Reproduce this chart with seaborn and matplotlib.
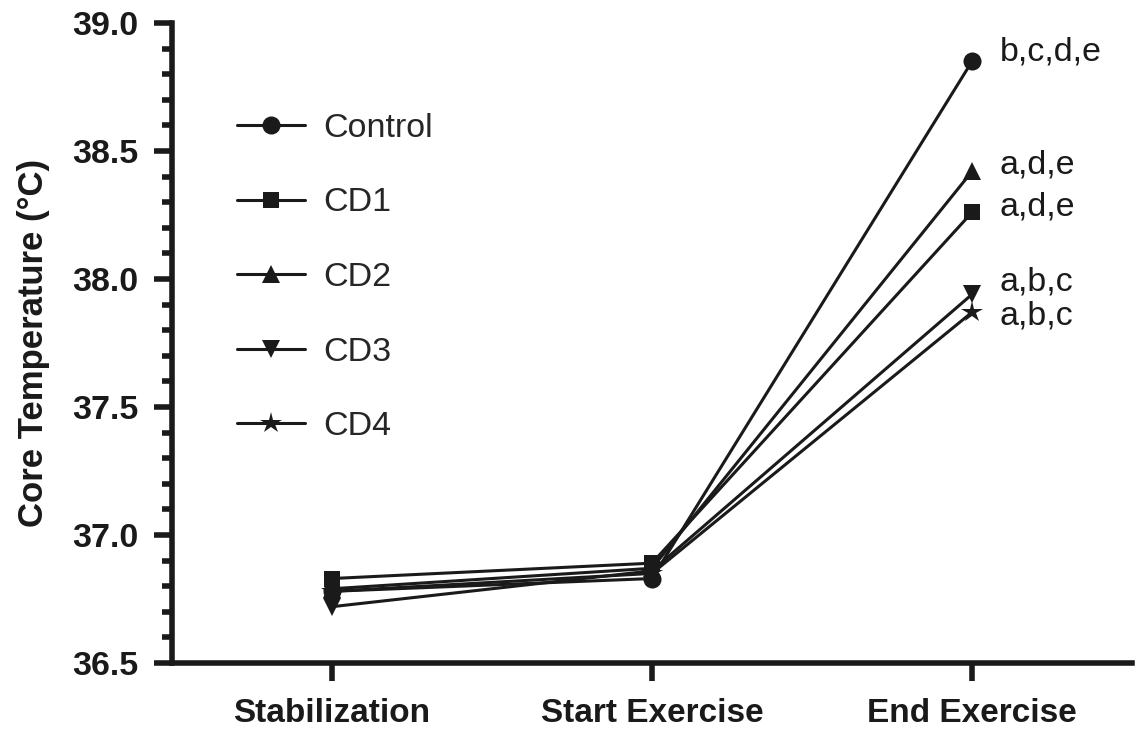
import matplotlib
matplotlib.use("Agg")
import matplotlib.pyplot as plt
from matplotlib.ticker import MultipleLocator
from matplotlib.lines import Line2D
import seaborn as sns
import pandas as pd

# Measurement phases and mean core temperature (°C) per condition
phases = ["Stabilization", "Start Exercise", "End Exercise"]
groups = ["Control", "CD1", "CD2", "CD3", "CD4"]
control = [36.78, 36.83, 38.85]
cd1 = [36.83, 36.89, 38.26]
cd2 = [36.79, 36.87, 38.42]
cd3 = [36.72, 36.86, 37.94]
cd4 = [36.78, 36.85, 37.87]
# Significance letters at the end of exercise
sig_labels = ["b,c,d,e", "a,d,e", "a,d,e", "a,b,c", "a,b,c"]

series = [control, cd1, cd2, cd3, cd4]
rows = []
for g, vals in zip(groups, series):
    for i, v in enumerate(vals):
        rows.append({"phase_idx": i, "temp": v, "group": g})
df = pd.DataFrame(rows)

sns.set_theme(style="ticks")
plt.rcParams["font.family"] = ["Liberation Sans", "DejaVu Sans"]

INK = "#1a1a1a"
fig = plt.figure(figsize=(11.42, 7.35), dpi=100)
ax = fig.add_axes([172 / 1142, 1 - 663 / 735, 960 / 1142, 640 / 735])

markers = {"Control": "o", "CD1": "s", "CD2": "^", "CD3": "v", "CD4": "*"}
sizes = {"Control": 13, "CD1": 12, "CD2": 13, "CD3": 13, "CD4": 16}
palette = {g: INK for g in groups}

sns.lineplot(data=df, x="phase_idx", y="temp", hue="group", style="group",
             markers=markers, dashes=False, palette=palette,
             hue_order=groups, style_order=groups, linewidth=2.2,
             markeredgewidth=0, ax=ax, legend=False)

for line, g in zip(ax.get_lines(), groups):
    line.set_markersize(sizes[g])

# Legend entries
handles = [Line2D([0], [0], color=INK, lw=2.2, marker=markers[g],
                  markersize=sizes[g], markeredgewidth=0) for g in groups]
ax.legend(handles, groups, loc="upper left", bbox_to_anchor=(0.0677, 0.8595),
          frameon=False, fontsize=24.5, labelspacing=1.28, handlelength=2.0,
          handletextpad=0.53, borderpad=0, borderaxespad=0)

# Significance annotations beside end-of-exercise points
offsets = [(20, 7), (20, 3.7), (20, 4.6), (20, 9), (20, -3)]
for vals, lab, off in zip(series, sig_labels, offsets):
    ax.annotate(lab, xy=(2, vals[2]), xytext=off, textcoords="offset points",
                fontsize=24.5, va="center", ha="left", color=INK)

ax.set_xlim(-0.5, 2.5)
ax.set_ylim(36.5, 39.0)
ax.set_xticks([0, 1, 2])
ax.set_xticklabels(phases, fontsize=24, fontweight="bold", color=INK)
ax.yaxis.set_major_locator(MultipleLocator(0.5))
ax.yaxis.set_minor_locator(MultipleLocator(0.1))
ax.set_yticklabels([f"{t:.1f}" for t in ax.get_yticks()], fontsize=24.5,
                   fontweight="bold", color=INK)
ax.set_xlabel("")
ax.set_ylabel("Core Temperature (°C)", fontsize=25, fontweight="bold",
              color=INK, labelpad=16)

sns.despine(ax=ax)
for s in ["left", "bottom"]:
    ax.spines[s].set_linewidth(4)
    ax.spines[s].set_color(INK)
ax.tick_params(axis="both", which="major", length=13, width=4,
               color=INK, direction="out")
ax.tick_params(axis="y", which="major", pad=11)
ax.tick_params(axis="y", which="minor", length=7, width=4, color=INK)
ax.tick_params(axis="x", which="major", pad=12)

fig.savefig("out.png", dpi=100)
